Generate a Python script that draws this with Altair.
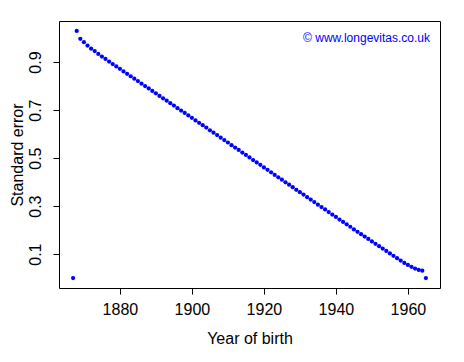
import altair as alt
import pandas as pd

years = list(range(1867, 1966))
std_error = [
    0.000, 1.030, 0.997, 0.983, 0.969, 0.956, 0.946, 0.934, 0.923, 0.913,
    0.902, 0.892, 0.882, 0.872, 0.861, 0.851, 0.841, 0.831, 0.821, 0.810,
    0.800, 0.790, 0.780, 0.770, 0.759, 0.749, 0.739, 0.729, 0.719, 0.708,
    0.698, 0.688, 0.678, 0.668, 0.657, 0.647, 0.637, 0.627, 0.616, 0.606,
    0.596, 0.585, 0.575, 0.565, 0.554, 0.544, 0.534, 0.523, 0.513, 0.503,
    0.492, 0.482, 0.472, 0.461, 0.451, 0.441, 0.430, 0.420, 0.410, 0.399,
    0.389, 0.379, 0.368, 0.358, 0.348, 0.337, 0.327, 0.317, 0.306, 0.296,
    0.286, 0.275, 0.265, 0.255, 0.244, 0.234, 0.224, 0.214, 0.203, 0.193,
    0.183, 0.173, 0.163, 0.153, 0.143, 0.133, 0.123, 0.113, 0.103, 0.093,
    0.083, 0.073, 0.063, 0.055, 0.047, 0.040, 0.034, 0.031, 0.000,
]
x_ticks = [1880, 1900, 1920, 1940, 1960]
y_ticks = [0.1, 0.3, 0.5, 0.7, 0.9]
watermark = ["© www.longevitas.co.uk"]

df = pd.DataFrame({"year": years, "se": std_error})
FONT = "Liberation Sans"

xmin, xmax = min(years), max(years)
xpad = (xmax - xmin) * 0.04
ymin, ymax = min(std_error), max(std_error)
ypad = (ymax - ymin) * 0.04

points = alt.Chart(df).mark_point(filled=True, shape="circle", size=18, color="#0000FF", opacity=1).encode(
    x=alt.X("year:Q", scale=alt.Scale(domain=[xmin - xpad, xmax + xpad], nice=False, zero=False),
            axis=alt.Axis(values=x_ticks, title="Year of birth", format="d", grid=False, domain=False,
                          tickSize=6, tickColor="black", labelPadding=7, labelFontSize=16, labelFont=FONT,
                          labelColor="black", titleFontSize=16, titleFont=FONT, titleFontWeight="normal",
                          titleColor="black", titlePadding=13)),
    y=alt.Y("se:Q", scale=alt.Scale(domain=[ymin - ypad, ymax + ypad], nice=False, zero=False),
            axis=alt.Axis(values=y_ticks, title="Standard error", format=".1f", grid=False, domain=False,
                          tickSize=6, tickColor="black", labelPadding=10, labelFontSize=16, labelFont=FONT,
                          labelColor="black", labelAngle=270, labelAlign="center", labelBaseline="bottom",
                          titleFontSize=16, titleFont=FONT, titleFontWeight="normal",
                          titleColor="black", titleAngle=270, titleAlign="center",
                          titleBaseline="middle", titleX=-42, titleY=133.5)),
)

wm = alt.Chart(pd.DataFrame({"t": watermark})).mark_text(
    align="right", baseline="middle", fontSize=12, font=FONT, color="#0000FF"
).encode(x=alt.value(371), y=alt.value(17), text="t:N")

chart = (points + wm).properties(
    width=381, height=267,
    autosize=alt.AutoSizeParams(type="none"),
    padding={"left": 51, "top": 13, "right": 10, "bottom": 60},
).configure_view(stroke="black", strokeWidth=1)

chart.save("out.html", embed_options={"renderer": "svg", "actions": False})
